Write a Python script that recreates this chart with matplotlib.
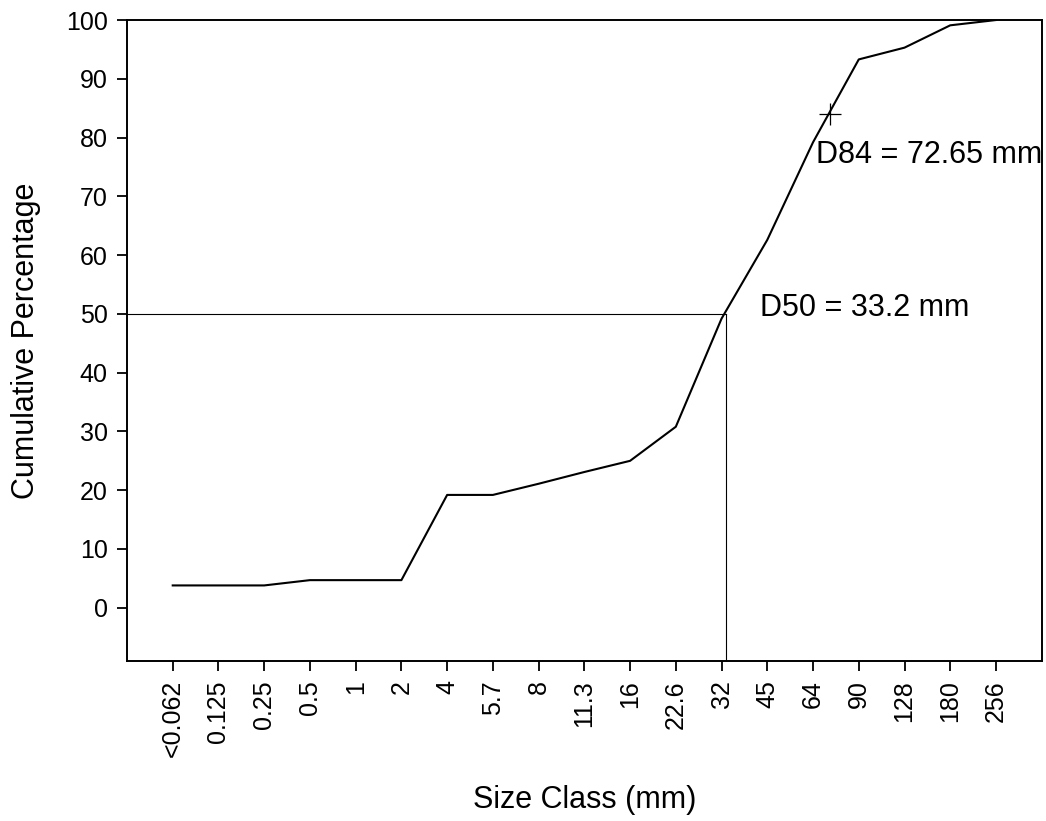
import numpy as np
from matplotlib import pyplot as plt

plt.rcParams['font.family'] = ['Liberation Sans', 'DejaVu Sans']

# size classes (mm) and cumulative percent finer
size_labels = ["<0.062", "0.125", "0.25", "0.5", "1", "2", "4", "5.7", "8", "11.3",
               "16", "22.6", "32", "45", "64", "90", "128", "180", "256"]
cum_pct = [3.8, 3.8, 3.8, 4.7, 4.7, 4.7, 19.2, 19.2, 21.1, 23.1,
           25.0, 30.8, 49.2, 62.6, 79.2, 93.3, 95.3, 99.1, 100.0]

d50 = 33.2
d84 = 72.65

# position of a size on the evenly spaced class axis (log interpolation between classes)
def class_pos(d, lo_idx, lo, hi):
    return lo_idx + np.log(d / lo) / np.log(hi / lo)

x = np.arange(len(size_labels))
x50 = class_pos(d50, 12, 32, 45)
x84 = class_pos(d84, 14, 64, 90)

fig = plt.figure(figsize=(10.46, 8.21), dpi=100)
ax = fig.add_axes([0.1214, 0.1953, 0.8745, 0.7803])

ax.plot(x, cum_pct, color="black", lw=1.5)

# D50 guide lines
ax.plot([-1, x50], [50, 50], color="black", lw=0.8)
ax.plot([x50, x50], [-9, 50], color="black", lw=0.8)

# D84 marker
ax.plot([x84], [84], marker="+", ms=16, mew=0.9, color="black")

ax.text(x84 - 0.31, 77, f"D84 = {d84} mm", fontsize=22, va="center", ha="left")
ax.text(12.85, 51, f"D50 = {d50} mm", fontsize=22, va="center", ha="left")

ax.set_xlim(-1, 19)
ax.set_ylim(-9, 100)
ax.set_xticks(x)
ax.set_xticklabels(size_labels, rotation=90)
ax.set_yticks(range(0, 101, 10))

ax.tick_params(direction="out", length=7, width=1.3, labelsize=18, pad=7)
for s in ax.spines.values():
    s.set_linewidth(1.4)

ax.set_xlabel("Size Class (mm)", fontsize=22)
ax.set_ylabel("Cumulative Percentage", fontsize=22)
ax.xaxis.set_label_coords(0.5, -0.2174)
ax.xaxis.label.set_va("center")
ax.yaxis.set_label_coords(-0.11, 0.5)
ax.yaxis.label.set_va("center")

plt.savefig("out.png", dpi=100)
